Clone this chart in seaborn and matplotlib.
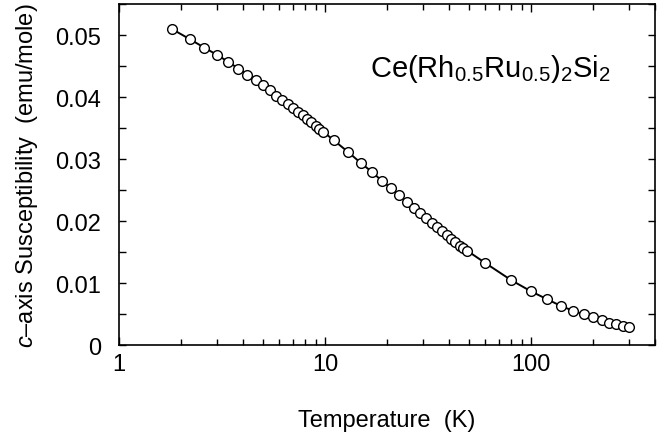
import matplotlib
matplotlib.use("Agg")
import matplotlib.pyplot as plt
import matplotlib.ticker as mticker
import seaborn as sns
import pandas as pd

temperature = [1.8, 2.2, 2.6, 3.0, 3.4, 3.8, 4.2, 4.6, 5.0, 5.4, 5.8, 6.2, 6.6, 7.0,
               7.4, 7.8, 8.2, 8.6, 9.0, 9.4, 9.8, 11, 13, 15, 17, 19, 21, 23, 25, 27,
               29, 31, 33, 35, 37, 39, 41, 43, 45, 47, 49, 60, 80, 100, 120, 140, 160,
               180, 200, 220, 240, 260, 280, 300]
susceptibility = [0.0510, 0.04935, 0.04795, 0.04677, 0.04565, 0.04457, 0.0436, 0.04274,
                  0.04188, 0.04108, 0.04021, 0.03957, 0.03882, 0.03818, 0.03763, 0.03705,
                  0.03645, 0.03592, 0.03537, 0.03484, 0.0344, 0.03306, 0.03108, 0.0293,
                  0.02785, 0.0264, 0.02527, 0.02414, 0.0230, 0.02204, 0.02124, 0.02043,
                  0.01973, 0.01903, 0.01834, 0.01774, 0.0171, 0.01656, 0.01602, 0.0156,
                  0.01521, 0.01323, 0.01048, 0.00866, 0.00737, 0.00629, 0.00553, 0.00495,
                  0.00447, 0.00398, 0.0036, 0.00334, 0.00311, 0.0029]
x_ticks = [1, 10, 100]
x_tick_labels = ["1", "10", "100"]
y_ticks = [0, 0.01, 0.02, 0.03, 0.04, 0.05]
y_tick_labels = ["0", "0.01", "0.02", "0.03", "0.04", "0.05"]

sns.set_style("ticks")
plt.rcParams["font.family"] = ["Liberation Sans", "DejaVu Sans"]
plt.rcParams["mathtext.fontset"] = "custom"
plt.rcParams["mathtext.rm"] = "Liberation Sans"
plt.rcParams["mathtext.it"] = "Liberation Sans:italic"
plt.rcParams["text.color"] = "black"
plt.rcParams["axes.labelcolor"] = "black"

df = pd.DataFrame({"T": temperature, "chi": susceptibility})

fig = plt.figure(figsize=(6.70, 4.39), dpi=100)
ax = fig.add_axes([0.1776, 0.2118, 0.80, 0.7768])

sns.lineplot(data=df, x="T", y="chi", ax=ax, color="black", linewidth=1.4,
             marker="o", markersize=7, markerfacecolor="white",
             markeredgecolor="black", markeredgewidth=1.0)

ax.set_xscale("log")
ax.set_xlim(1, 400)
ax.set_ylim(0, 0.055)

ax.set_xticks(x_ticks)
ax.set_xticklabels(x_tick_labels)
ax.xaxis.set_minor_locator(mticker.LogLocator(base=10, subs=range(2, 10), numticks=20))
ax.xaxis.set_minor_formatter(mticker.NullFormatter())
ax.set_yticks(y_ticks)
ax.set_yticklabels(y_tick_labels)
ax.yaxis.set_minor_locator(mticker.MultipleLocator(0.005))

ax.tick_params(which="both", direction="in", top=True, right=True, width=1.0,
               colors="black", labelcolor="black", labelsize=17)
ax.tick_params(which="major", length=6)
ax.tick_params(which="minor", length=4)
ax.tick_params(axis="y", which="both", length=5, pad=13)
ax.tick_params(axis="x", which="major", pad=6)

for s in ax.spines.values():
    s.set_linewidth(1.2)
    s.set_color("black")

ax.set_xlabel("Temperature  (K)", fontsize=17, labelpad=24, color="black")
ax.set_ylabel(r"$\it{c}$–axis Susceptibility  (emu/mole)", fontsize=17, labelpad=11,
              color="black")

ax.text(0.468, 0.79, r"Ce(Rh$_{0.5}$Ru$_{0.5}$)$_2$Si$_2$", transform=ax.transAxes,
        fontsize=21, va="baseline", ha="left", color="black")

fig.savefig("out.png", dpi=100)
